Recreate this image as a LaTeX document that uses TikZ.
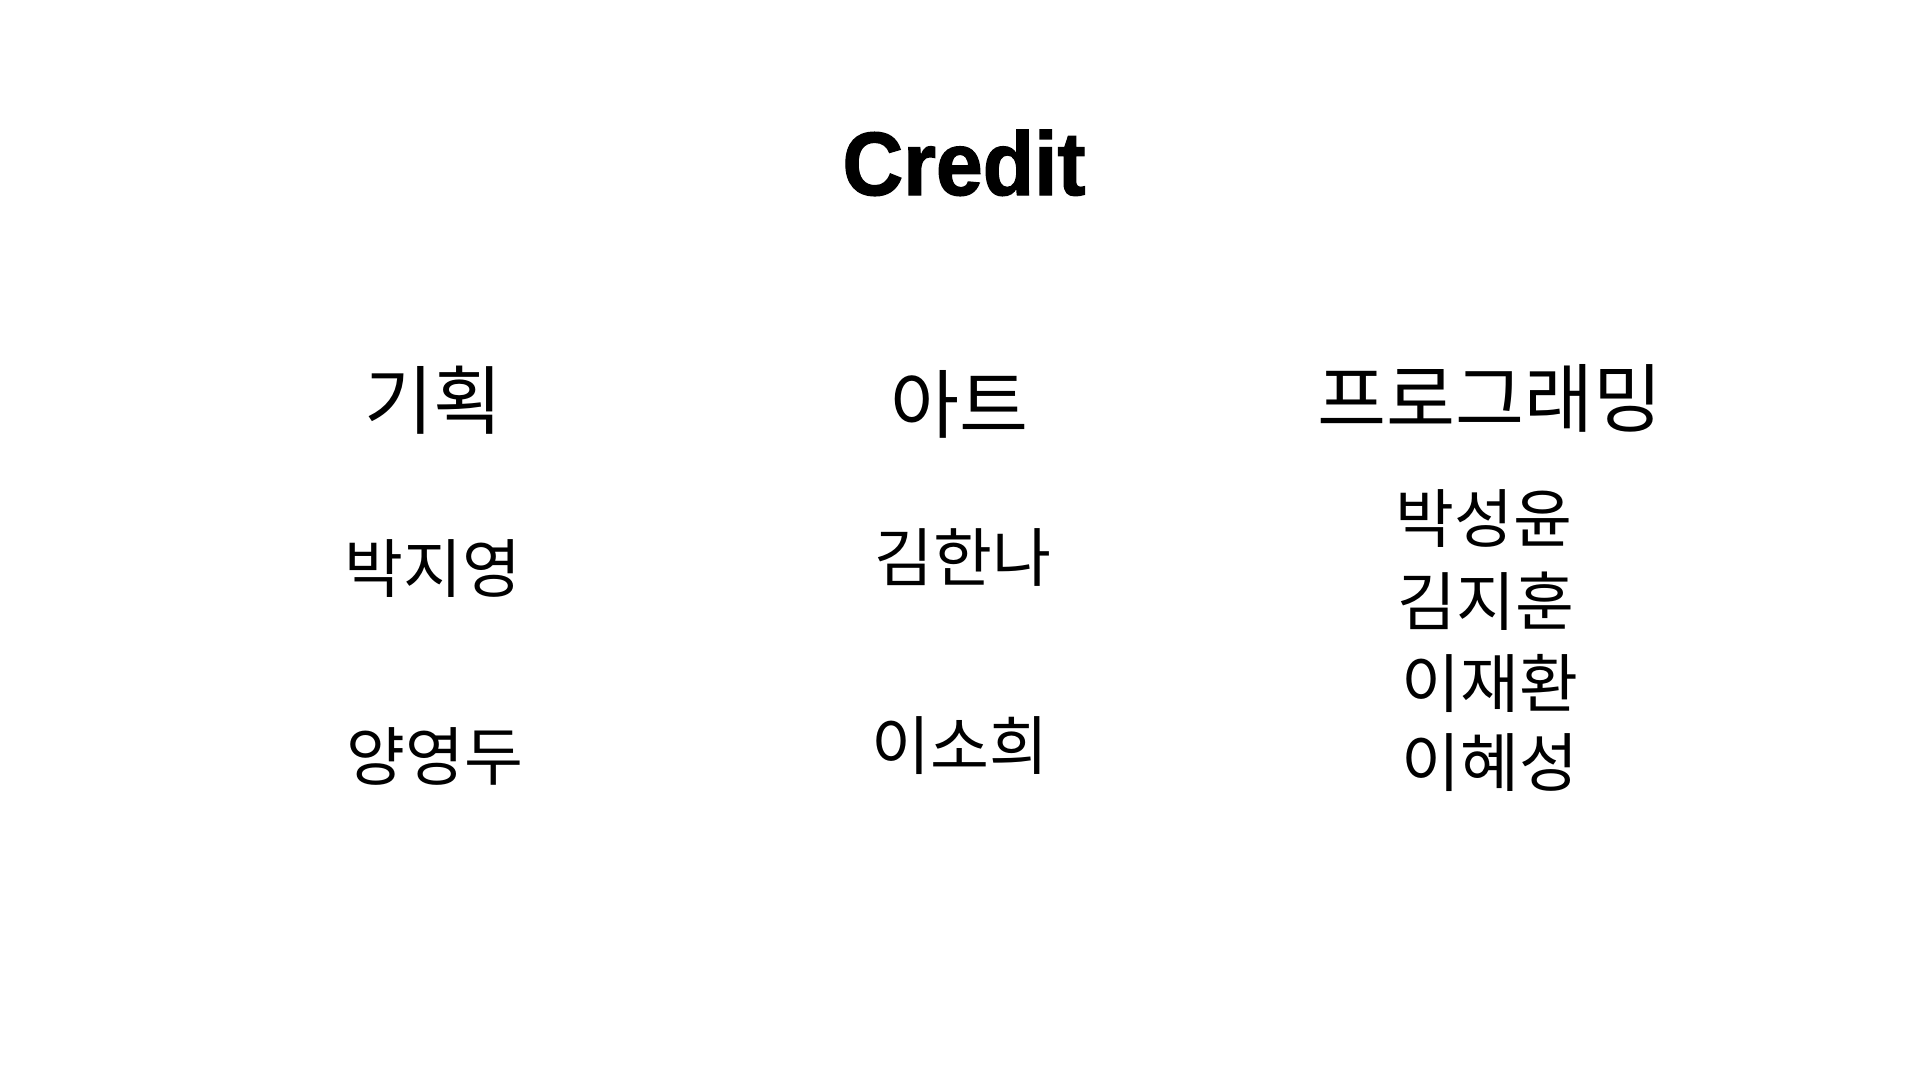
\documentclass[tikz,border=0pt]{standalone}
\usepackage{fontspec}
\setmainfont{Liberation Sans}
\newfontfamily\ttlfont{Liberation Sans}[BoldFont={Liberation Sans Bold},BoldFeatures={FakeBold=1.5}]
\newfontfamily\kr{Noto Sans CJK KR}
\begin{document}
\begin{tikzpicture}[x=1pt,y=-1pt,
  ttlstyle/.style={inner sep=0pt,anchor=base,font=\ttlfont\bfseries\fontsize{90}{100}\selectfont},
  headstyle/.style={inner sep=0pt,font=\kr\fontsize{75}{85}\selectfont},
  namestyle/.style={inner sep=0pt,font=\kr\fontsize{64}{72}\selectfont}]
\fill[white] (0,0) rectangle (1920,1080);
\useasboundingbox (0,0) rectangle (1920,1080);
\node[ttlstyle] (t) at (964,195) {\scalebox{0.935}[1]{Credit}};
\node[headstyle] (h1) at (433,400) {기획};
\node[headstyle] (h2) at (959,404) {아트};
\node[headstyle] (h3) at (1490,398) {프로그래밍};
\node[namestyle] (a1) at (433,569) {박지영};
\node[namestyle] (a2) at (435,756) {양영두};
\node[namestyle] (b1) at (963,557) {김한나};
\node[namestyle] (b2) at (960,746) {이소희};
\node[namestyle] (c1) at (1484,519) {박성윤};
\node[namestyle] (c2) at (1486,601) {김지훈};
\node[namestyle] (c3) at (1490,683) {이재환};
\node[namestyle] (c4) at (1490,763) {이혜성};
\end{tikzpicture}
\end{document}
